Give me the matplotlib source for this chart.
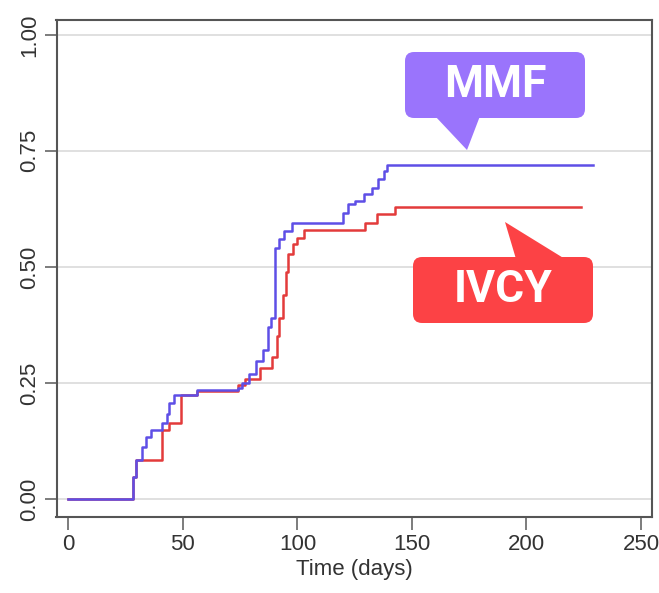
import matplotlib
matplotlib.use("Agg")
import matplotlib.pyplot as plt
from matplotlib.patches import FancyBboxPatch, Polygon
from matplotlib.transforms import IdentityTransform

# step curves (time in days, cumulative proportion)
mmf_t = [0, 28, 29.5, 32, 34, 36, 41, 43, 44, 46, 56, 74, 75.6, 79, 82, 85,
         87, 88.5, 90, 92, 94, 97.5, 120, 122, 125, 129, 132.5, 135, 138, 139,
         141, 229]
mmf_y = [0, 0.047, 0.084, 0.112, 0.133, 0.148, 0.163, 0.184, 0.206, 0.223,
         0.234, 0.24, 0.25, 0.27, 0.298, 0.32, 0.37, 0.39, 0.54, 0.56, 0.577,
         0.594, 0.616, 0.635, 0.642, 0.657, 0.67, 0.69, 0.706, 0.72, 0.72, 0.72]

ivcy_t = [0, 28, 29.5, 41, 44, 49, 56, 74, 77, 83.5, 89, 91, 92, 93.6, 95,
          96, 98, 100, 103, 128, 129.4, 134.6, 142.5, 224]
ivcy_y = [0, 0.047, 0.084, 0.148, 0.163, 0.223, 0.232, 0.245, 0.258, 0.283,
          0.305, 0.35, 0.39, 0.44, 0.49, 0.527, 0.549, 0.562, 0.58, 0.58,
          0.595, 0.614, 0.63, 0.63]

xticks = [0, 50, 100, 150, 200, 250]
yticks = [0.0, 0.25, 0.5, 0.75, 1.0]
ylabels = ["0.00", "0.25", "0.50", "0.75", "1.00"]

W, H = 659, 593
fig = plt.figure(figsize=(W / 100, H / 100), dpi=100)
ax = fig.add_axes([56.5 / W, 1 - 517 / H, (652 - 56.5) / W, (517 - 20) / H])

for y in yticks:
    ax.axhline(y, color="#e0e0e0", lw=1.4, zorder=0)

ax.step(mmf_t, mmf_y, where="post", color="#5e4fe6", lw=1.8, zorder=3)
ax.step(ivcy_t, ivcy_y, where="post", color="#e33b3b", lw=1.8, zorder=2)

ax.set_xlim(-5.2, 254.8)
ax.set_ylim(-0.039, 1.032)
ax.set_xticks(xticks)
ax.set_yticks(yticks)
ax.set_yticklabels(ylabels, rotation=90, va="center")
ax.tick_params(axis="both", direction="out", length=9, width=1.2, color="#666666",
               labelsize=16, labelcolor="#333333", pad=3)
for t in ax.get_xticklabels() + ax.get_yticklabels():
    t.set_fontfamily("Liberation Sans")
ax.set_xlabel("Time (days)", fontsize=16, family="Liberation Sans", color="#333333", labelpad=3)
for s in ax.spines.values():
    s.set_color("#555555")
    s.set_linewidth(1.5)

# callout boxes, placed in output pixels (y measured from the top)
def callout(x0, y0, x1, y1, tri, color, text):
    disp = IdentityTransform()
    box = FancyBboxPatch((x0, H - y1), x1 - x0, y1 - y0,
                         boxstyle="round,pad=0,rounding_size=9",
                         transform=disp, facecolor=color, edgecolor="none", zorder=10)
    fig.patches.append(box)
    pts = [(px, H - py) for px, py in tri]
    fig.patches.append(Polygon(pts, closed=True, transform=disp,
                               facecolor=color, edgecolor="none", zorder=10))
    fig.text((x0 + x1) / 2 / W, 1 - (y0 + y1) / 2 / H, text, color="white",
             fontsize=32, fontweight="bold", family="Roboto",
             ha="center", va="center", zorder=11)

callout(405, 52, 585, 118, [(435, 116), (480, 116), (467, 150)], "#9a74fc", "MMF")
callout(413, 257, 593, 323, [(516, 259), (565, 259), (505, 222)], "#fc4245", "IVCY")

fig.savefig("out.png", dpi=100)
